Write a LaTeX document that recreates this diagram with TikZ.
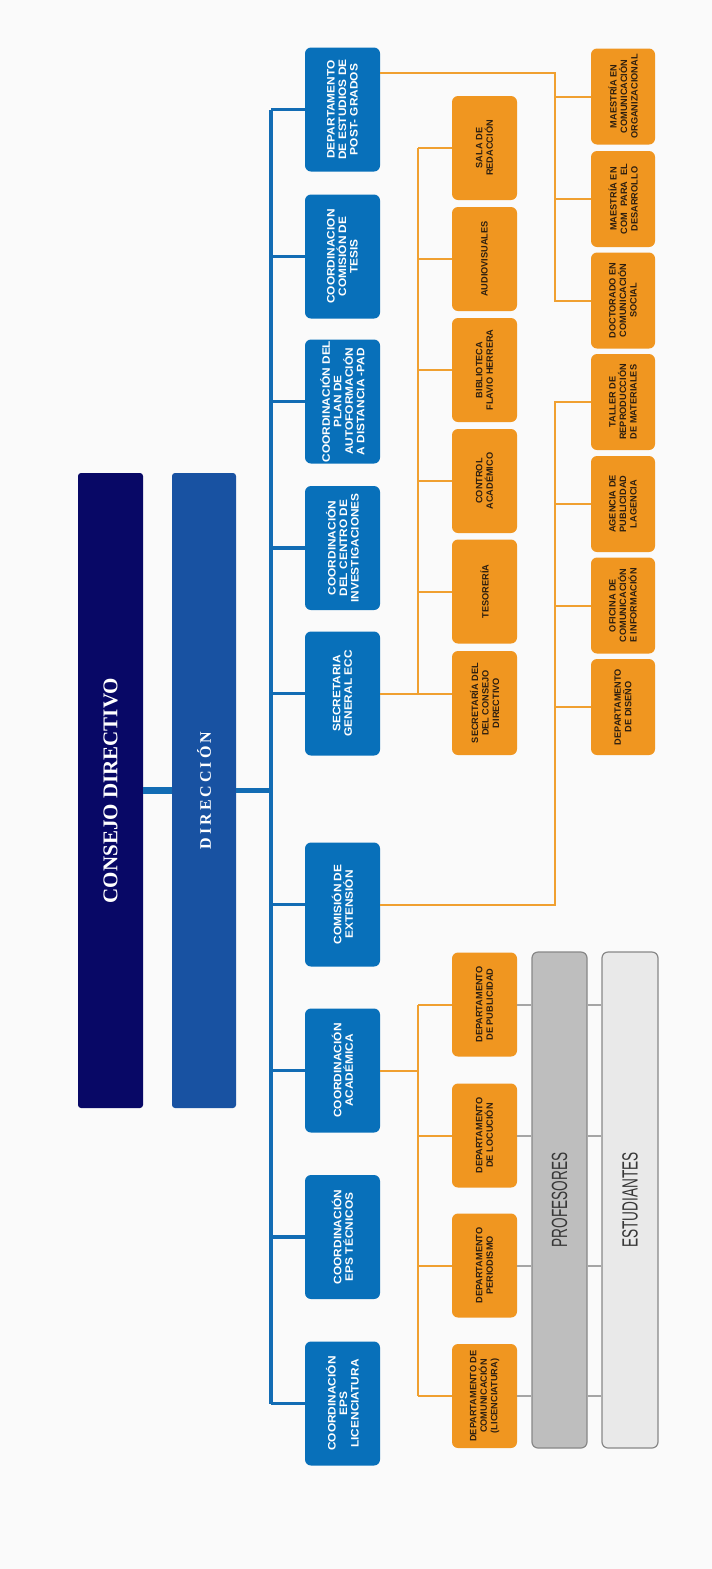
\documentclass[tikz,border=0pt]{standalone}
\usepackage{fontspec}
\setmainfont{Liberation Sans}
\newfontfamily\headserif{Liberation Serif}
\newfontfamily\widesans[FakeStretch=1.1]{Liberation Sans}
\newfontfamily\condsans[FakeStretch=0.62]{Liberation Sans}
\usetikzlibrary{calc}
\definecolor{navy}{RGB}{8,8,102}
\definecolor{dirblue}{RGB}{24,82,162}
\definecolor{boxblue}{RGB}{8,112,186}
\definecolor{spineblue}{RGB}{18,108,180}
\definecolor{orgbox}{RGB}{240,150,32}
\definecolor{orgline}{RGB}{240,160,48}
\definecolor{orgtext}{RGB}{45,30,15}
\definecolor{profgray}{RGB}{190,190,190}
\definecolor{estgray}{RGB}{233,233,233}
\definecolor{barborder}{RGB}{135,135,135}
\definecolor{linkgray}{RGB}{165,165,165}
\definecolor{bartext}{RGB}{55,55,55}
\definecolor{bgc}{RGB}{250,250,250}
\newcommand\dsp{\kern3pt}
\tikzset{
  bigbox/.style={rotate=90, rounded corners=3pt, inner sep=0pt, text=white, minimum width=635pt},
  bluebox/.style={rotate=90, fill=boxblue, rounded corners=6pt, minimum width=124pt, minimum height=75pt,
    inner sep=0pt, text=white, font=\widesans\bfseries\fontsize{10.8}{11.5}\selectfont, align=center},
  orangeA/.style={rotate=90, fill=orgbox, rounded corners=6pt, minimum width=104pt, minimum height=65pt,
    inner sep=0pt, text=orgtext, font=\bfseries\fontsize{9.2}{10.5}\selectfont, align=center},
  orangeB/.style={orangeA, minimum width=96pt, minimum height=64pt},
  graybar/.style={rotate=90, rounded corners=6pt, draw=barborder, line width=1.2pt, minimum width=496pt,
    inner sep=0pt, text=bartext, font=\condsans\fontsize{22}{22}\selectfont},
  blueline/.style={draw=spineblue, line width=3.5pt},
  oline/.style={draw=orgline, line width=2pt},
  gline/.style={draw=linkgray, line width=2pt}
}
\begin{document}
\begin{tikzpicture}[x=1pt,y=-1pt]
\fill[bgc] (0,0) rectangle (712,1569);
\useasboundingbox (0,0) rectangle (712,1569);

% top level
\node[bigbox, fill=navy, minimum height=65pt] (consejo) at (110.5,790.5)
  {\headserif\bfseries\fontsize{21}{21}\selectfont CONSEJO DIRECTIVO};
\node[bigbox, fill=dirblue, minimum height=64pt] (direccion) at (204,790.5)
  {\headserif\bfseries\fontsize{16}{16}\selectfont D\dsp I\dsp R\dsp E\dsp C\dsp C\dsp I\dsp Ó\dsp N};

% blue boxes
\node[bluebox] (pg)     at (342.5,109.5) {DEPARTAMENTO\\DE ESTUDIOS DE\\POST- GRADOS};
\node[bluebox] (tesis)  at (342.5,256.5) {COORDINACION\\COMISIÓN DE\\TESIS};
\node[bluebox] (pad)    at (342.5,401.5) {COORDINACIÓN DEL\\PLAN DE\\AUTOFORMACIÓN\\A DISTANCIA -PAD};
\node[bluebox] (inv)    at (342.5,548) {COORDINACIÓN\\DEL CENTRO DE\\INVESTIGACIONES};
\node[bluebox] (secgen) at (342.5,693.5) {SECRETARIA\\GENERAL ECC};
\node[bluebox] (ext)    at (342.5,904.5) {COMISIÓN DE\\EXTENSIÓN};
\node[bluebox] (acad)   at (342.5,1070.5) {COORDINACIÓN\\ACADÉMICA};
\node[bluebox] (tec)    at (342.5,1237) {COORDINACIÓN\\EPS TÉCNICOS};
\node[bluebox] (lic)    at (342.5,1403.5) {COORDINACIÓN\\EPS\\LICENCIATURA};

% orange column 1, upper group
\node[orangeA] (sala)    at (484.5,148)   {SALA DE\\REDACCIÓN};
\node[orangeA] (audio)   at (484.5,259)   {AUDIOVISUALES};
\node[orangeA] (biblio)  at (484.5,370)   {BIBLIOTECA\\FLAVIO HERRERA};
\node[orangeA] (control) at (484.5,481)   {CONTROL\\ACADÉMICO};
\node[orangeA] (teso)    at (484.5,591.5) {TESORERÍA};
\node[orangeA] (secdir)  at (484.5,703)   {SECRETARÍA DEL\\DEL CONSEJO\\DIRECTIVO};

% orange column 1, lower group
\node[orangeA] (dpub) at (484.5,1004.5) {DEPARTAMENTO\\DE PUBLICIDAD};
\node[orangeA] (dloc) at (484.5,1135.5) {DEPARTAMENTO\\DE LOCUCIÓN};
\node[orangeA] (dper) at (484.5,1265.5) {DEPARTAMENTO\\PERIODISMO};
\node[orangeA] (dcom) at (484.5,1396)   {DEPARTAMENTO DE\\COMUNICACIÓN\\(LICENCIATURA)};

% orange column 2
\node[orangeB] (morg)   at (623,96.5)  {MAESTRÍA EN\\COMUNICACIÓN\\ORGANIZACIONAL};
\node[orangeB] (mdes)   at (623,199)   {MAESTRÍA EN\\COM\hspace{6pt}PARA\hspace{6pt}EL\\DESARROLLO};
\node[orangeB] (doct)   at (623,300.5) {DOCTORADO EN\\COMUNICACIÓN\\SOCIAL};
\node[orangeB] (taller) at (623,402)   {TALLER DE\\REPRODUCCIÓN\\DE MATERIALES};
\node[orangeB] (agen)   at (623,504)   {AGENCIA DE\\PUBLICIDAD\\LAGENCIA};
\node[orangeB] (ofic)   at (623,605.5) {OFICINA DE\\COMUNICACIÓN\\E INFORMACIÓN};
\node[orangeB] (dise)   at (623,707)   {DEPARTAMENTO\\DE DISEÑO};

% gray bars
\node[graybar, fill=profgray, minimum height=55pt] (prof) at (559.5,1200) {PROFESORES};
\node[graybar, fill=estgray, minimum height=56pt] (est) at (630,1200) {ESTUDIANTES};

% reference coordinates for vertical connector lines
\coordinate (spine) at (271,0);
\coordinate (ov1) at (418,0);
\coordinate (ov2) at (555,0);

% blue connectors
\draw[draw=spineblue, line width=7pt] (consejo.south) -- (direccion.north);
\draw[blueline, line width=5pt] (direccion.south) -- (direccion.south -| spine);
\draw[blueline, line width=4pt] (pg.north -| spine) -- (lic.north -| spine);
\foreach \b in {pg,tesis,pad,inv,secgen,ext,acad,tec,lic}
  \draw[blueline] (\b.north -| spine) -- (\b.north);

% orange connectors: Secretaria General
\draw[oline] (secgen.south) -- (secgen.south -| secdir.north);
\draw[oline] (sala.north -| ov1) -- (secgen.south -| ov1);
\foreach \b in {sala,audio,biblio,control,teso}
  \draw[oline] (\b.north -| ov1) -- (\b.north);

% orange connectors: Coordinacion Academica
\draw[oline] (acad.south) -- (acad.south -| ov1);
\draw[oline] (dpub.north -| ov1) -- (dcom.north -| ov1);
\foreach \b in {dpub,dloc,dper,dcom}
  \draw[oline] (\b.north -| ov1) -- (\b.north);

% orange connectors: Post-grados
\coordinate (pgout) at ($(pg.south)+(0,-37)$);
\draw[oline] (pgout) -| (doct.north -| ov2) -- (doct.north);
\foreach \b in {morg,mdes}
  \draw[oline] (\b.north -| ov2) -- (\b.north);

% orange connectors: Comision de Extension
\draw[oline] (ext.south) -| (taller.north -| ov2) -- (taller.north);
\foreach \b in {agen,ofic,dise}
  \draw[oline] (\b.north -| ov2) -- (\b.north);

% gray connectors
\foreach \b in {dpub,dloc,dper,dcom}{
  \draw[gline] (\b.south) -- (\b.south -| prof.north);
  \draw[gline] (\b.south -| prof.south) -- (\b.south -| est.north);
}
\end{tikzpicture}
\end{document}
